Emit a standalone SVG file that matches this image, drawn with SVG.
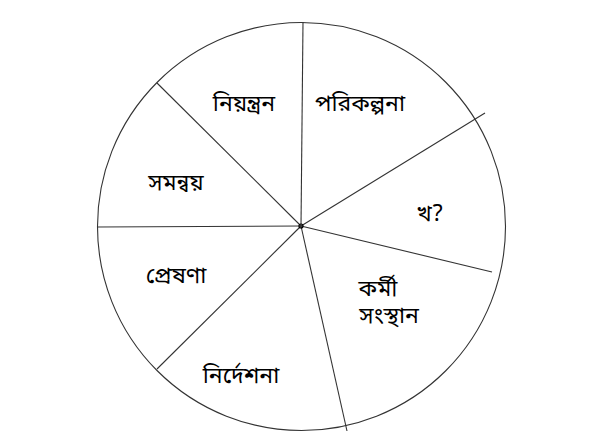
<svg xmlns="http://www.w3.org/2000/svg" width="603" height="448" viewBox="0 0 603 448">
<style>
.ln{stroke:#333;stroke-width:1.1;fill:none}
.t{font-family:"Noto Sans Bengali","Noto Sans","DejaVu Sans",sans-serif;font-size:23px;fill:#000}
</style>
<rect width="603" height="448" fill="#fff"/>
<g id="wheel">
<circle class="ln" cx="301.5" cy="226.5" r="204"/>
</g>
<g id="connectors">
<line class="ln" x1="301" y1="226" x2="303" y2="22"/>
<line class="ln" x1="301" y1="226" x2="485" y2="113"/>
<line class="ln" x1="301" y1="226" x2="492" y2="272"/>
<line class="ln" x1="301" y1="226" x2="347" y2="431"/>
<line class="ln" x1="301" y1="226" x2="157" y2="369"/>
<line class="ln" x1="301" y1="226" x2="97" y2="227"/>
<line class="ln" x1="301" y1="226" x2="157" y2="83"/>
<circle cx="301" cy="226" r="2" fill="none" stroke="#000" stroke-width="1.2"/>
</g>
<g id="n1"><text class="t" x="244" y="111" text-anchor="middle">নিয়ন্ত্রন</text></g>
<g id="n2"><text class="t" x="360" y="111" text-anchor="middle">পরিকল্পনা</text></g>
<g id="n3"><text class="t" x="430" y="221" text-anchor="middle">খ?</text></g>
<g id="n4"><text class="t" x="378" y="296" text-anchor="middle"><tspan x="378">কর্মী</tspan><tspan x="389" y="323">সংস্থান</tspan></text></g>
<g id="n5"><text class="t" x="241" y="383" text-anchor="middle">নির্দেশনা</text></g>
<g id="n6"><text class="t" x="176" y="283" text-anchor="middle">প্রেষণা</text></g>
<g id="n7"><text class="t" x="176" y="190" text-anchor="middle">সমন্বয়</text></g>
</svg>
